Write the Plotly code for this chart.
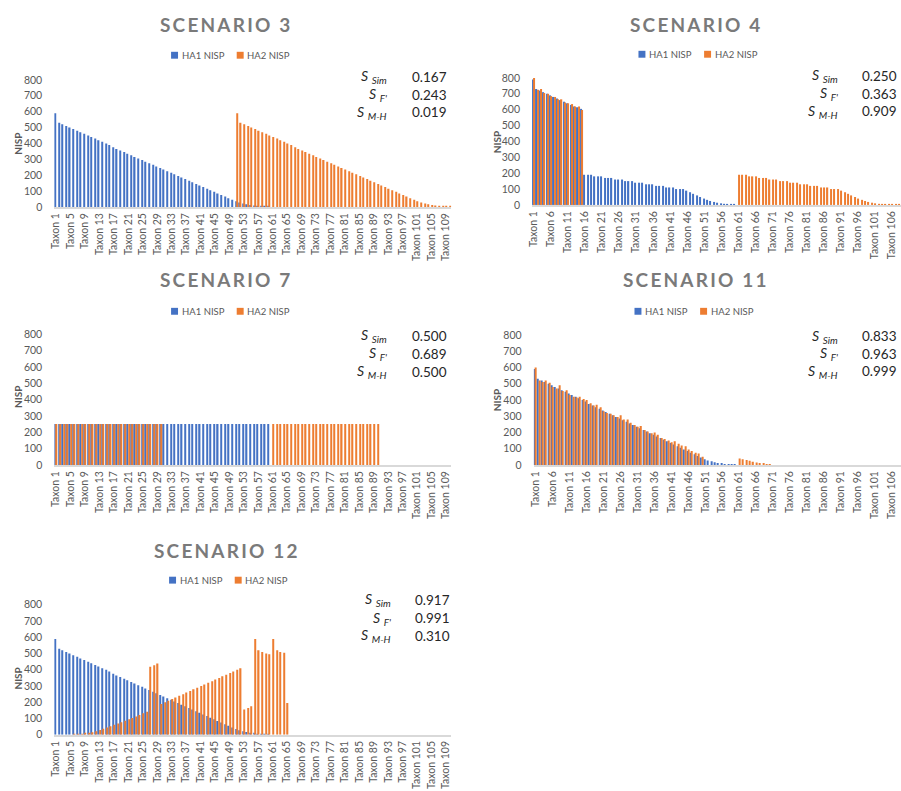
import plotly.graph_objects as go

W, H = 901, 791
N_TAXA = 110
taxa = [f"Taxon {i}" for i in range(1, N_TAXA + 1)]

# ---- NISP values --------------------------------------------------------
# Ranked decline used by several assemblages (60 taxa)
ranked_nisp = [590, 530, 520, 510, 500, 490, 480, 470, 460, 450,
               440, 430, 420, 410, 400, 390, 375, 365, 355, 345,
               335, 325, 315, 305, 295, 285, 275, 265, 255, 245,
               235, 225, 215, 205, 195, 185, 175, 165, 155, 145,
               135, 125, 115, 105, 95, 85, 75, 65, 55, 45,
               35, 28, 22, 17, 12, 9, 6, 4, 2, 1]

# Scenario 4
s4_ha1 = [790, 730, 720, 710, 700, 690, 680, 670, 660, 650,
          640, 630, 620, 615, 605, 190, 190, 190, 180, 180,
          180, 170, 170, 170, 160, 160, 160, 150, 150, 150,
          140, 140, 140, 130, 130, 130, 120, 120, 120, 110,
          110, 110, 100, 100, 100, 90, 80, 70, 60, 50,
          40, 32, 25, 19, 14, 10, 7, 5, 3, 2]
s4_ha2_shared = [800, 725, 730, 705, 700, 685, 680, 665, 665, 645,
                 640, 635, 620, 620, 598]
s4_ha2_own = [190, 190, 190, 180, 180, 180, 170, 170, 170, 160,
              160, 160, 150, 150, 150, 140, 140, 140, 130, 130,
              130, 120, 120, 120, 110, 110, 110, 100, 100, 100,
              90, 80, 70, 60, 50, 40, 32, 25, 19, 14,
              10, 7, 5, 3, 2, 2, 1, 1, 1, 1]

# Scenario 7
s7_ha1 = [250, 250, 250, 250, 250, 250, 250, 250, 250, 250,
          250, 250, 250, 250, 250, 250, 250, 250, 250, 250,
          250, 250, 250, 250, 250, 250, 250, 250, 250, 250,
          250, 250, 250, 250, 250, 250, 250, 250, 250, 250,
          250, 250, 250, 250, 250, 250, 250, 250, 250, 250,
          250, 250, 250, 250, 250, 250, 250, 250, 250, 250]
s7_ha2_shared = [250, 250, 250, 250, 250, 250, 250, 250, 250, 250,
                 250, 250, 250, 250, 250, 250, 250, 250, 250, 250,
                 250, 250, 250, 250, 250, 250, 250, 250, 250, 250]
s7_ha2_own = [250, 250, 250, 250, 250, 250, 250, 250, 250, 250,
              250, 250, 250, 250, 250, 250, 250, 250, 250, 250,
              250, 250, 250, 250, 250, 250, 250, 250, 250, 250]

# Scenario 11
s11_ha2_shared = [600, 520, 510, 520, 505, 480, 470, 490, 455, 460,
                  430, 420, 415, 420, 405, 400, 380, 365, 370, 355,
                  330, 320, 315, 305, 295, 305, 280, 280, 260, 245,
                  235, 240, 215, 205, 195, 200, 185, 165, 160, 150,
                  140, 145, 130, 120, 115, 95, 85, 75, 70, 50]
s11_ha2_own = [40, 35, 30, 25, 20, 15, 10, 8, 5, 3]

# Scenario 12 (HA2 occupies taxa 6-65)
s12_ha2 = [1, 2, 4, 7, 11, 16, 22, 29, 37, 45,
           53, 61, 69, 77, 86, 95, 104, 113, 122, 132,
           142, 418, 428, 438, 190, 200, 210, 220, 230, 240,
           250, 260, 270, 280, 290, 300, 310, 320, 330, 340,
           350, 360, 370, 380, 390, 400, 410, 155, 165, 175,
           590, 520, 510, 500, 495, 590, 520, 510, 505, 195]

stats = {
    "SCENARIO 3": ("0.167", "0.243", "0.019"),
    "SCENARIO 4": ("0.250", "0.363", "0.909"),
    "SCENARIO 7": ("0.500", "0.689", "0.500"),
    "SCENARIO 11": ("0.833", "0.963", "0.999"),
    "SCENARIO 12": ("0.917", "0.991", "0.310"),
}
series_names = ("HA1 NISP", "HA2 NISP")


def place(*segments):
    """Spread (first_taxon, values) segments over the full taxon list."""
    out = [None] * N_TAXA
    for first, vals in segments:
        for k, v in enumerate(vals):
            out[first - 1 + k] = v
    return out


series = {
    "SCENARIO 3": (place((1, ranked_nisp)), place((51, ranked_nisp))),
    "SCENARIO 4": (place((1, s4_ha1)), place((1, s4_ha2_shared), (61, s4_ha2_own))),
    "SCENARIO 7": (place((1, s7_ha1)), place((1, s7_ha2_shared), (61, s7_ha2_own))),
    "SCENARIO 11": (place((1, ranked_nisp)), place((1, s11_ha2_shared), (61, s11_ha2_own))),
    "SCENARIO 12": (place((1, ranked_nisp)), place((6, s12_ha2))),
}

# ---- panel geometry (pixels) --------------------------------------------
panels = [
    dict(key="SCENARIO 3", every=4, x0=49.5, x1=448.8, xmax=109.5, ytop=75, ybot=204,
         title=(223, 19), legend=(227, 50), nisp=(13, 140), lab_r=386, val_l=407,
         rows=(72, 90, 108)),
    dict(key="SCENARIO 4", every=5, x0=530.0, x1=901, xmax=107.7, ytop=73, ybot=202,
         title=(695, 19), legend=(697, 49), nisp=(495, 138), lab_r=840, val_l=860,
         rows=(71, 89, 107)),
    dict(key="SCENARIO 7", every=4, x0=49.5, x1=448.8, xmax=109.5, ytop=333.3, ybot=466,
         title=(223, 277.5), legend=(227, 310), nisp=(13, 397), lab_r=386, val_l=407,
         rows=(335, 353, 371.5)),
    dict(key="SCENARIO 11", every=5, x0=531.6, x1=901, xmax=107.7, ytop=334, ybot=466,
         title=(695, 277.5), legend=(693, 310), nisp=(495, 400), lab_r=840, val_l=860,
         rows=(335.5, 353, 371)),
    dict(key="SCENARIO 12", every=4, x0=49.5, x1=448.8, xmax=109.5, ytop=608, ybot=740,
         title=(223, 552.5), legend=(225, 583), nisp=(13, 683), lab_r=390, val_l=410,
         rows=(603, 621.5, 639.5)),
]

BLUE = "#4472C4"
ORANGE = "#ED7D31"
GREY_TXT = "#595959"
FONT = "Lato"

fig = go.Figure()
layout = dict(
    width=W, height=H, margin=dict(l=0, r=0, t=0, b=0),
    paper_bgcolor="white", plot_bgcolor="white",
    barmode="group", bargap=0.3, bargroupgap=0.0,
    font=dict(family=FONT, color=GREY_TXT),
    showlegend=False,
    annotations=[], shapes=[],
)


def px_x(v):
    return v / W


def px_y(v):
    return 1 - v / H


for i, p in enumerate(panels, start=1):
    sfx = "" if i == 1 else str(i)
    ha1, ha2 = series[p["key"]]
    for name, vals, col in zip(series_names, (ha1, ha2), (BLUE, ORANGE)):
        fig.add_trace(go.Bar(
            x=taxa, y=vals, name=name, marker=dict(color=col, line=dict(width=0)),
            xaxis="x" + sfx, yaxis="y" + sfx,
        ))

    layout["xaxis" + sfx] = dict(
        domain=[px_x(p["x0"]), px_x(p["x1"])], anchor="y" + sfx,
        type="category", range=[-0.5, p["xmax"]],
        tickmode="array", tickvals=taxa[::p["every"]], ticktext=taxa[::p["every"]],
        tickangle=-90, ticks="", showgrid=False, zeroline=False,
        showline=True, linecolor="#d9d9d9", linewidth=2,
        tickfont=dict(family=FONT, size=10.5, color=GREY_TXT),
    )
    layout["yaxis" + sfx] = dict(
        domain=[px_y(p["ybot"]), px_y(p["ytop"])], anchor="x" + sfx,
        range=[0, 800], tick0=0, dtick=100, ticks="",
        showgrid=False, zeroline=False, showline=False,
        ticklabelstandoff=11,
        tickfont=dict(family=FONT, size=10.5, color=GREY_TXT),
    )

    ann = layout["annotations"]
    shp = layout["shapes"]

    # per-panel legend: small colour square followed by the series name
    lx, ly = p["legend"]
    for name, col, start in zip(series_names, (BLUE, ORANGE), (lx - 60, lx + 6)):
        shp.append(dict(
            type="rect", xref="paper", yref="paper", line=dict(width=0),
            fillcolor=col,
            x0=px_x(start), x1=px_x(start + 7),
            y0=px_y(ly + 3.5), y1=px_y(ly - 3.5),
        ))
        ann.append(dict(
            text=name, x=px_x(start + 8.5), y=px_y(ly), xref="paper", yref="paper",
            xanchor="left", yanchor="middle", showarrow=False,
            font=dict(family=FONT, size=9.5, color=GREY_TXT),
        ))

    ann.append(dict(
        text=f'<span style="letter-spacing:2.2px">{p["key"]}</span>',
        x=px_x(p["title"][0]), y=px_y(p["title"][1]), xref="paper", yref="paper",
        xanchor="center", yanchor="middle", showarrow=False,
        font=dict(family=FONT, size=19, color="#7a7a7a", weight="bold"),
    ))
    ann.append(dict(
        text="<b>NISP</b>", textangle=-90,
        x=px_x(p["nisp"][0]), y=px_y(p["nisp"][1]), xref="paper", yref="paper",
        xanchor="center", yanchor="middle", showarrow=False,
        font=dict(family=FONT, size=10, color=GREY_TXT),
    ))
    labels = ("<i>S</i> <sub><i>Sim</i></sub>",
              "<i>S</i> <sub><i>F'</i></sub>",
              "<i>S</i> <sub><i>M-H</i></sub>")
    for lab, val, ry in zip(labels, stats[p["key"]], p["rows"]):
        ann.append(dict(
            text=lab, x=px_x(p["lab_r"]), y=px_y(ry), xref="paper", yref="paper",
            xanchor="right", yanchor="middle", showarrow=False,
            font=dict(family=FONT, size=14, color="#262626"),
        ))
        ann.append(dict(
            text=val, x=px_x(p["val_l"]), y=px_y(ry), xref="paper", yref="paper",
            xanchor="left", yanchor="middle", showarrow=False,
            font=dict(family=FONT, size=13.5, color="#262626"),
        ))

fig.update_layout(**layout)
fig.write_html("out.html")
